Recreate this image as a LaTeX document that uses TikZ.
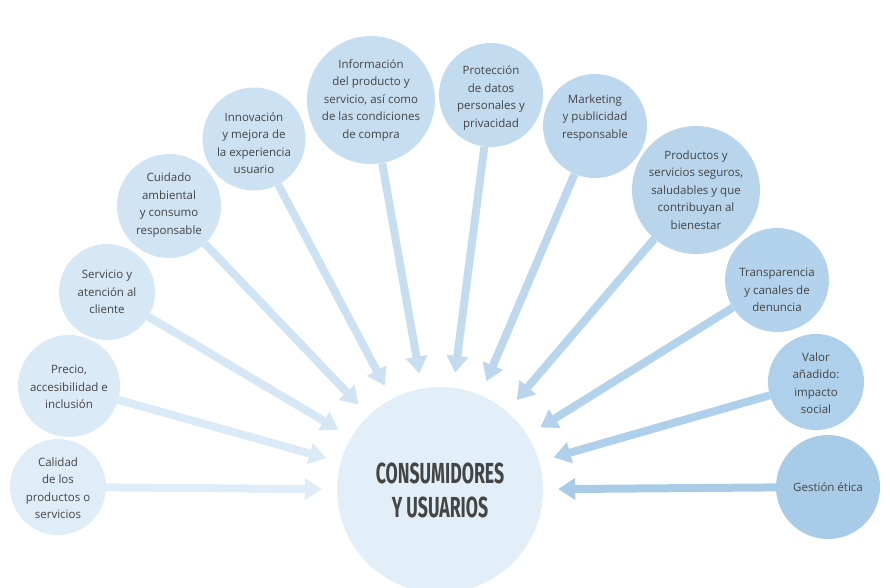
\documentclass[tikz,border=0pt]{standalone}
\usepackage{fontspec}
\setmainfont{Open Sans}
\newfontfamily\condfont[FakeStretch=0.61]{Fira Sans}
\usetikzlibrary{arrows.meta}
\definecolor{centerc}{HTML}{E3EFF8}
\definecolor{txt}{HTML}{454545}
\definecolor{c0}{HTML}{DFEDF8}
\definecolor{c1}{HTML}{DBEAF7}
\definecolor{c2}{HTML}{D6E7F5}
\definecolor{c3}{HTML}{D1E4F3}
\definecolor{c4}{HTML}{CCE1F2}
\definecolor{c5}{HTML}{C7DEF1}
\definecolor{c6}{HTML}{C2DBEF}
\definecolor{c7}{HTML}{BDD8EE}
\definecolor{c8}{HTML}{B8D5EC}
\definecolor{c9}{HTML}{B3D2EB}
\definecolor{c10}{HTML}{AED0EA}
\definecolor{c11}{HTML}{A8CCE8}
\begin{document}
\begin{tikzpicture}[x=1pt,y=-1pt,
 bubble/.style={circle,inner sep=0pt,minimum size=#1},
 lbl/.style={align=center,font=\fontsize{11.5}{17.5}\selectfont,text=txt,inner sep=0pt},
 conn/.style={line width=8pt,-{Triangle[width=21pt,length=17pt]},shorten >=15pt}]
\useasboundingbox (0,0) rectangle (890,587);
\node[bubble=206pt,fill=centerc] (c) at (440,490) {};
\node[font=\condfont\bfseries\fontsize{29}{34}\selectfont,text=txt,align=center] (ct) at (440,490) {CONSUMIDORES\\Y USUARIOS};

\node[bubble=96pt,fill=c0] (n0) at (58,487) {};
\node[bubble=102pt,fill=c1] (n1) at (69,386) {};
\node[bubble=96pt,fill=c2] (n2) at (107,292) {};
\node[bubble=104pt,fill=c3] (n3) at (169,206) {};
\node[bubble=103pt,fill=c4] (n4) at (254,139) {};
\node[bubble=128pt,fill=c5] (n5) at (371,100) {};
\node[bubble=104pt,fill=c6] (n6) at (491,95) {};
\node[bubble=104pt,fill=c7] (n7) at (595,126) {};
\node[bubble=128pt,fill=c8] (n8) at (696,190) {};
\node[bubble=104pt,fill=c9] (n9) at (777,280) {};
\node[bubble=96pt,fill=c10] (n10) at (816,382) {};
\node[bubble=104pt,fill=c11] (n11) at (828,487) {};

\draw[conn,c0] (n0) -- (c);
\draw[conn,c1] (n1) -- (c);
\draw[conn,c2] (n2) -- (c);
\draw[conn,c3] (n3) -- (c);
\draw[conn,c4] (n4) -- (c);
\draw[conn,c5] (n5) -- (c);
\draw[conn,c6] (n6) -- (c);
\draw[conn,c7] (n7) -- (c);
\draw[conn,c8] (n8) -- (c);
\draw[conn,c9] (n9) -- (c);
\draw[conn,c10] (n10) -- (c);
\draw[conn,c11] (n11) -- (c);

\node[lbl] (t0) at (58,488) {Calidad\\de los\\productos o\\servicios};
\node[lbl] (t1) at (69,387) {Precio,\\accesibilidad e\\inclusión};
\node[lbl] (t2) at (107,292) {Servicio y\\atención al\\cliente};
\node[lbl] (t3) at (169,205) {Cuidado\\ambiental\\y consumo\\responsable};
\node[lbl] (t4) at (254,143) {Innovación\\y mejora de\\la experiencia\\usuario};
\node[lbl] (t5) at (371,100) {Información\\del producto y\\servicio, así como\\de las condiciones\\de compra};
\node[lbl] (t6) at (491,98) {Protección\\de datos\\personales y\\privacidad};
\node[lbl] (t7) at (595,118) {Marketing\\y publicidad\\responsable};
\node[lbl] (t8) at (696,190) {Productos y\\servicios seguros,\\saludables y que\\contribuyan al\\bienestar};
\node[lbl] (t9) at (777,290) {Transparencia\\y canales de\\denuncia};
\node[lbl] (t10) at (816,383) {Valor\\añadido:\\impacto\\social};
\node[lbl] (t11) at (828,487) {Gestión ética};
\end{tikzpicture}
\end{document}
